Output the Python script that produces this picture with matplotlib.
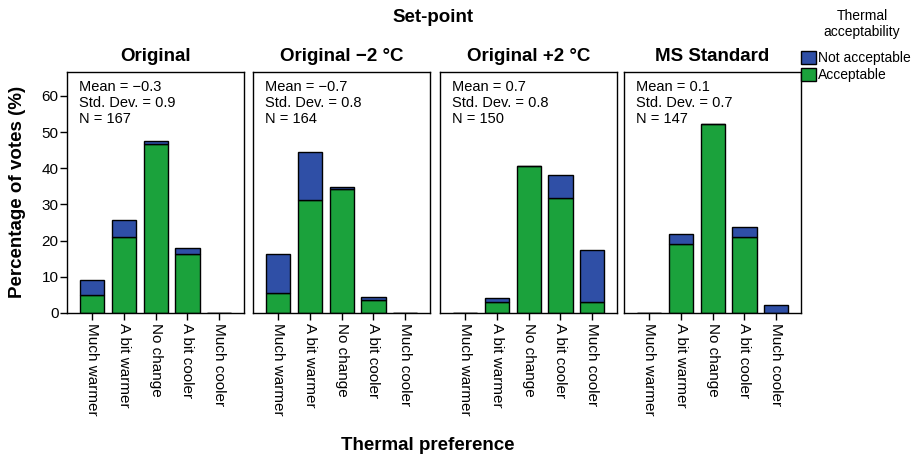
import numpy as np
import matplotlib.pyplot as plt
from matplotlib.patches import Patch

plt.rcParams['font.family'] = ['Liberation Sans', 'DejaVu Sans']

categories = ["Much warmer", "A bit warmer", "No change", "A bit cooler", "Much cooler"]
panels = ["Original", "Original \u22122 \u00b0C", "Original +2 \u00b0C", "MS Standard"]
stats = [("\u22120.3", "0.9", 167), ("\u22120.7", "0.8", 164),
         ("0.7", "0.8", 150), ("0.1", "0.7", 147)]

# percentage of votes per category
acceptable = [
    [4.9, 21.1, 46.7, 16.2, 0.0],
    [5.5, 31.2, 34.3, 3.5, 0.0],
    [0.0, 3.1, 40.7, 31.9, 3.1],
    [0.0, 19.0, 52.3, 21.1, 0.0],
]
not_acceptable = [
    [4.1, 4.6, 0.7, 1.9, 0.0],
    [10.9, 13.3, 0.4, 0.8, 0.0],
    [0.0, 1.1, 0.0, 6.1, 14.4],
    [0.0, 2.8, 0.0, 2.7, 2.1],
]

blue = "#2f4fa6"
green = "#1ba23c"

fig = plt.figure(figsize=(9.14, 4.58), dpi=100)
lefts = [67, 253, 440, 624]
x = np.arange(len(categories))
for i, name in enumerate(panels):
    ax = fig.add_axes([lefts[i] / 914, 145 / 458, 177 / 914, 241 / 458])
    ax.bar(x, acceptable[i], width=0.76, color=green, edgecolor="black", linewidth=1)
    ax.bar(x, not_acceptable[i], width=0.76, bottom=acceptable[i], color=blue,
           edgecolor="black", linewidth=1)
    ax.set_xlim(-0.79, 4.78)
    ax.set_ylim(0, 66.6)
    ax.set_xticks(x)
    ax.set_xticklabels(categories, rotation=270, fontsize=11)
    ax.tick_params(axis="x", length=5, width=1, pad=2)
    if i == 0:
        ax.set_yticks(range(0, 61, 10))
        ax.tick_params(axis="y", length=5, width=1, labelsize=11, pad=1)
    else:
        ax.set_yticks([])
    for s in ax.spines.values():
        s.set_linewidth(1)
    ax.set_title(name, fontsize=13.5, fontweight="bold", pad=8)
    m, sd, n = stats[i]
    ax.text(0.065, 0.965, f"Mean = {m}\nStd. Dev. = {sd}\nN = {n}",
            transform=ax.transAxes, va="top", ha="left", fontsize=10.5,
            linespacing=1.15)

fig.text(433 / 914, 1 - 18 / 458, "Set-point", ha="center", va="center",
         fontsize=13.5, fontweight="bold")
fig.text(428 / 914, 1 - 445 / 458, "Thermal preference", ha="center", va="center",
         fontsize=13.5, fontweight="bold")
fig.text(18 / 914, 1 - 192 / 458, "Percentage of votes (%)", ha="center", va="center",
         rotation=90, fontsize=13.5, fontweight="bold")

# legend title placed separately to get the gap seen in the original
fig.text(862 / 914, 1 - 24 / 458, "Thermal\nacceptability", ha="center", va="center",
         fontsize=10, linespacing=1.15)
handles = [Patch(facecolor=blue, edgecolor="black"), Patch(facecolor=green, edgecolor="black")]
fig.legend(handles, ["Not acceptable", "Acceptable"],
           loc="upper left", bbox_to_anchor=(801 / 914, 1 - 51 / 458), frameon=False,
           fontsize=10, handlelength=1.05, handleheight=1.05,
           handletextpad=0.15, labelspacing=0.2, borderaxespad=0, borderpad=0)

fig.savefig("out.png", dpi=100)
